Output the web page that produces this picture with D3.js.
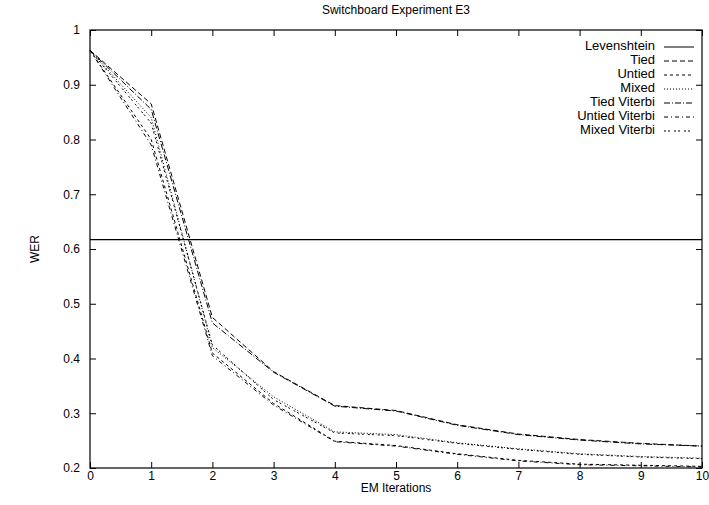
<!DOCTYPE html>
<html>
<head>
<meta charset="utf-8">
<script src="https://cdn.jsdelivr.net/npm/d3@7"></script>
<style>
  body { margin: 0; background: #fff; }
  text { font-family: "Liberation Sans", Arial, sans-serif; }
</style>
</head>
<body>
<div id="chart"></div>
<script>
var width = 709;
var height = 505;

// data
var iterations = [0, 1, 2, 3, 4, 5, 6, 7, 8, 9, 10];
var levenshtein = 0.617;
var tied        = [0.963, 0.865, 0.475, 0.376, 0.314, 0.305, 0.279, 0.262, 0.252, 0.245, 0.240];
var untied      = [0.963, 0.800, 0.410, 0.318, 0.249, 0.241, 0.226, 0.214, 0.207, 0.205, 0.203];
var mixed       = [0.963, 0.840, 0.420, 0.330, 0.266, 0.261, 0.246, 0.235, 0.226, 0.221, 0.218];
var tiedVit     = [0.963, 0.855, 0.465, 0.375, 0.313, 0.304, 0.278, 0.261, 0.251, 0.244, 0.240];
var untiedVit   = [0.963, 0.790, 0.405, 0.315, 0.248, 0.240, 0.225, 0.213, 0.206, 0.204, 0.202];
var mixedVit    = [0.963, 0.830, 0.425, 0.325, 0.264, 0.259, 0.245, 0.234, 0.225, 0.220, 0.217];
var xTicks = [0, 1, 2, 3, 4, 5, 6, 7, 8, 9, 10];
var yTicks = [0.2, 0.3, 0.4, 0.5, 0.6, 0.7, 0.8, 0.9, 1];

var series = [
  {name: "Tied", values: tied, dash: "5,3"},
  {name: "Untied", values: untied, dash: "3,3"},
  {name: "Mixed", values: mixed, dash: "1,2"},
  {name: "Tied Viterbi", values: tiedVit, dash: "6,2,1,2"},
  {name: "Untied Viterbi", values: untiedVit, dash: "4,3,1,3"},
  {name: "Mixed Viterbi", values: mixedVit, dash: "2,2,2,4"}
];

var margin = {top: 30, right: 7, bottom: 37, left: 90},
    iwidth = width - margin.left - margin.right,
    iheight = height - margin.top - margin.bottom;

var svg = d3.select("#chart")
    .append("svg")
    .attr("width", width)
    .attr("height", height);

var g = svg.append("g")
    .attr("transform", "translate(" + margin.left + "," + margin.top + ")");

var x = d3.scaleLinear().domain([0, 10]).range([0, iwidth]);
var y = d3.scaleLinear().domain([0.2, 1]).range([iheight, 0]);

// axes with inward ticks, mirrored on top and right
g.append("g")
    .attr("transform", "translate(0," + iheight + ")")
    .call(d3.axisBottom(x).tickValues(xTicks).tickSizeInner(-6).tickSizeOuter(0).tickPadding(3).tickFormat(d3.format("d")));
g.append("g")
    .call(d3.axisTop(x).tickValues(xTicks).tickSizeInner(-6).tickSizeOuter(0).tickFormat(""));
g.append("g")
    .call(d3.axisLeft(y).tickValues(yTicks).tickSizeInner(-6).tickSizeOuter(0).tickPadding(10).tickFormat(d3.format("")));
g.append("g")
    .attr("transform", "translate(" + iwidth + ",0)")
    .call(d3.axisRight(y).tickValues(yTicks).tickSizeInner(-6).tickSizeOuter(0).tickFormat(""));

g.selectAll(".domain").remove();
g.selectAll(".tick line").attr("stroke", "#000");
g.selectAll(".tick text").style("font-size", "12px").attr("fill", "#000");

g.append("rect")
    .attr("width", iwidth)
    .attr("height", iheight)
    .attr("fill", "none")
    .attr("stroke", "#000")
    .attr("stroke-width", 1.2);

// Levenshtein reference line
g.append("line")
    .attr("x1", 0)
    .attr("x2", iwidth)
    .attr("y1", y(levenshtein))
    .attr("y2", y(levenshtein))
    .attr("stroke", "#000")
    .attr("stroke-width", 1.2);

var line = d3.line()
    .x(function(d, i) { return x(iterations[i]); })
    .y(function(d) { return y(d); });

series.forEach(function(s) {
  g.append("path")
      .datum(s.values)
      .attr("fill", "none")
      .attr("stroke", "#000")
      .attr("stroke-width", 1)
      .attr("stroke-dasharray", s.dash)
      .attr("d", line);
});

// legend
var legend = [{name: "Levenshtein", dash: null}].concat(series);
legend.forEach(function(s, i) {
  var ly = 47 + i * 14;
  svg.append("text")
      .attr("x", 655)
      .attr("y", ly)
      .attr("text-anchor", "end")
      .attr("dominant-baseline", "middle")
      .style("font-size", "13px")
      .text(s.name);
  svg.append("line")
      .attr("x1", 664)
      .attr("x2", 694)
      .attr("y1", ly)
      .attr("y2", ly)
      .attr("stroke", "#000")
      .attr("stroke-width", 1)
      .attr("stroke-dasharray", s.dash);
});

svg.append("text")
    .attr("x", margin.left + iwidth / 2)
    .attr("y", 14)
    .attr("text-anchor", "middle")
    .style("font-size", "12px")
    .text("Switchboard Experiment E3");

svg.append("text")
    .attr("x", margin.left + iwidth / 2)
    .attr("y", 492)
    .attr("text-anchor", "middle")
    .style("font-size", "12px")
    .text("EM Iterations");

svg.append("text")
    .attr("transform", "translate(39," + (margin.top + iheight / 2) + ") rotate(-90)")
    .attr("text-anchor", "middle")
    .style("font-size", "12px")
    .text("WER");
</script>
</body>
</html>
